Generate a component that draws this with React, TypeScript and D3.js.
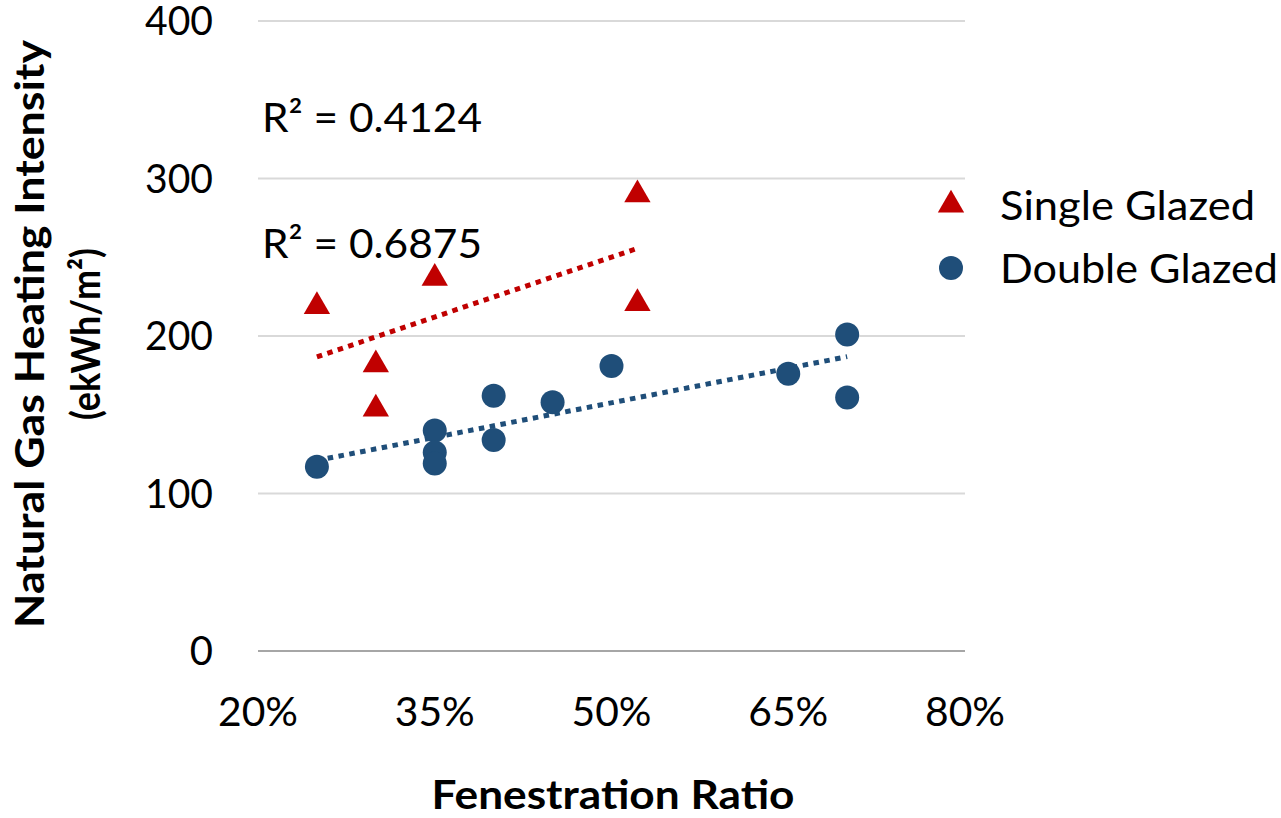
import React from "react";
import * as d3 from "d3";

const singleX = [25, 30, 30, 35, 52.2, 52.2];
const singleY = [220, 183, 155, 238, 291, 222];
const doubleX = [25, 35, 35, 35, 40, 40, 45, 50, 65, 70, 70];
const doubleY = [117, 140, 126, 119, 162, 134, 158, 181, 176, 201, 161];
const xTicks = [20, 35, 50, 65, 80];
const yTicks = [0, 100, 200, 300, 400];
const r2Labels = ["R² = 0.4124", "R² = 0.6875"];
const legendLabels = ["Single Glazed", "Double Glazed"];

const RED = "#C00000";
const BLUE = "#1F4E79";
const FONT = "Lato, 'Open Sans', sans-serif";

function fit(xs: number[], ys: number[]) {
  const mx = d3.mean(xs)!;
  const my = d3.mean(ys)!;
  let sxy = 0, sxx = 0;
  xs.forEach((x, i) => { sxy += (x - mx) * (ys[i] - my); sxx += (x - mx) ** 2; });
  const b = sxy / sxx;
  const a = my - b * mx;
  const [x0, x1] = d3.extent(xs) as [number, number];
  return [[x0, a + b * x0], [x1, a + b * x1]];
}

export default function App() {
  const x = d3.scaleLinear().domain([20, 80]).range([258, 965]);
  const y = d3.scaleLinear().domain([0, 400]).range([651, 21]);
  const line = d3.line<number[]>().x(d => x(d[0])).y(d => y(d[1]));
  const tri = d3.symbol().type(d3.symbolTriangle).size(300)()!;
  const singleFit = fit(singleX, singleY);
  const doubleFit = fit(doubleX, doubleY);

  return (
    <svg width={1281} height={818} style={{ position: "absolute", left: 0, top: 0, background: "#fff" }} fontFamily={FONT}>
      {yTicks.map(t => (
        <g key={t}>
          <line x1={258} x2={965} y1={y(t)} y2={y(t)} stroke={t === 0 ? "#a6a6a6" : "#d9d9d9"} strokeWidth={2} />
          <text x={213} y={y(t)} dy="0.36em" textAnchor="end" fontSize={40} fill="#000" textLength={t === 0 ? undefined : 68} lengthAdjust="spacingAndGlyphs">{t}</text>
        </g>
      ))}
      {xTicks.map(t => (
        <text key={t} x={x(t)} y={712} dy="0.36em" textAnchor="middle" fontSize={40} fill="#000" textLength={80} lengthAdjust="spacingAndGlyphs">{t}%</text>
      ))}
      <path d={line(singleFit)!} stroke={RED} strokeWidth={5} strokeDasharray="5.5 5.5" fill="none" />
      <path d={line(doubleFit)!} stroke={BLUE} strokeWidth={5} strokeDasharray="5.5 5.5" fill="none" />
      {singleX.map((v, i) => (
        <path key={"s" + i} d={tri} transform={`translate(${x(v)},${y(singleY[i]) + 2})`} fill={RED} />
      ))}
      {doubleX.map((v, i) => (
        <circle key={"d" + i} cx={x(v)} cy={y(doubleY[i])} r={12} fill={BLUE} />
      ))}
      <text x={262} y={117} dy="0.36em" fontSize={41} fill="#000" textLength={220} lengthAdjust="spacingAndGlyphs">{r2Labels[0]}</text>
      <text x={262} y={243} dy="0.36em" fontSize={41} fill="#000" textLength={220} lengthAdjust="spacingAndGlyphs">{r2Labels[1]}</text>
      <path d={tri} transform={`translate(951,205)`} fill={RED} />
      <text x={1000} y={205} dy="0.36em" fontSize={41} fill="#000" textLength={255} lengthAdjust="spacingAndGlyphs">{legendLabels[0]}</text>
      <circle cx={951} cy={268} r={12} fill={BLUE} />
      <text x={1000} y={268} dy="0.36em" fontSize={41} fill="#000" textLength={278} lengthAdjust="spacingAndGlyphs">{legendLabels[1]}</text>
      <text x={613} y={795} dy="0.36em" textAnchor="middle" fontSize={40} fontWeight="bold" fill="#000" textLength={363} lengthAdjust="spacingAndGlyphs">Fenestration Ratio</text>
      <g transform="translate(30,334) rotate(-90)">
        <text x={0} y={0} dy="0.36em" textAnchor="middle" fontSize={40} fontWeight="bold" fill="#000" textLength={588} lengthAdjust="spacingAndGlyphs">Natural Gas Heating Intensity</text>
      </g>
      <g transform="translate(86,334) rotate(-90)">
        <text x={0} y={0} dy="0.36em" textAnchor="middle" fontSize={40} fontWeight="bold" fill="#000" textLength={172} lengthAdjust="spacingAndGlyphs">(ekWh/m²)</text>
      </g>
    </svg>
  );
}
